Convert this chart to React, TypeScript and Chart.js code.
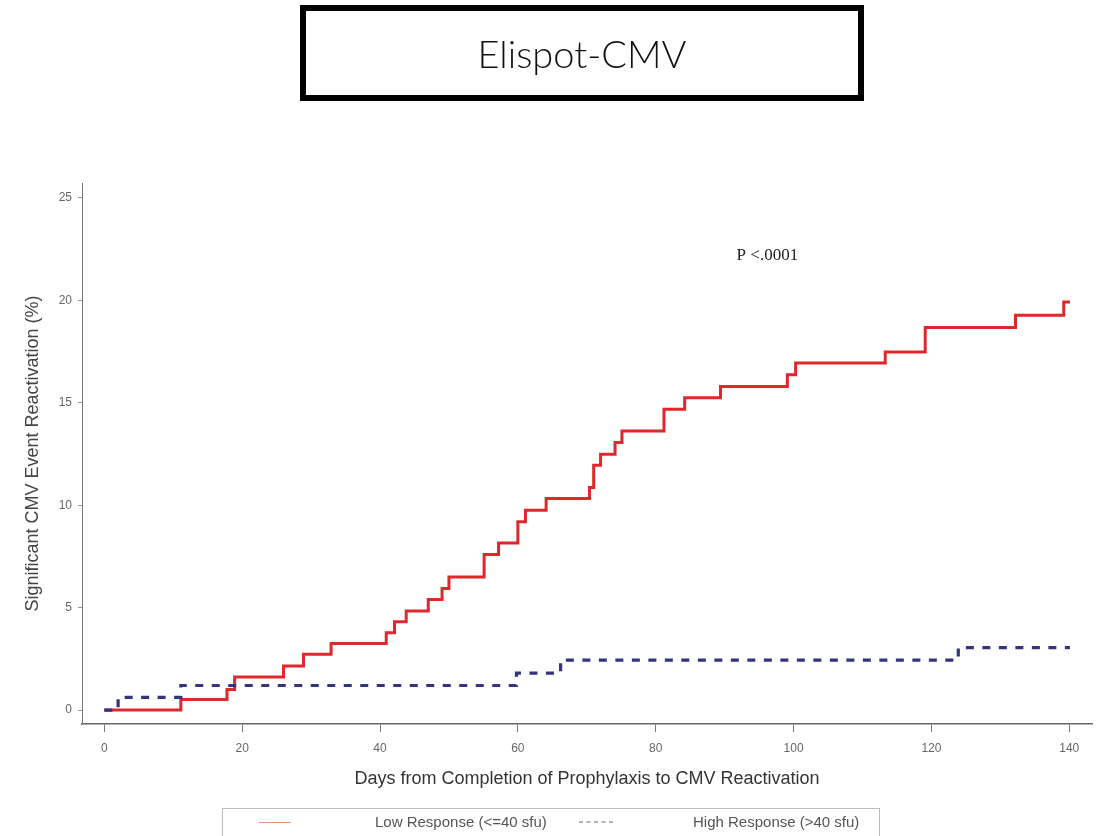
import React, { useEffect, useRef } from 'react';
import { Chart, registerables } from 'chart.js';

Chart.register(...registerables);

// Axis ticks
const xTicks = [0, 20, 40, 60, 80, 100, 120, 140];
const yTicks = [0, 5, 10, 15, 20, 25];

// Cumulative reactivation (%) for the low-response group: event day -> level after the event
const lowDays = [0, 11.1, 17.8, 18.9, 26, 28.9, 32.9, 40.9, 42.1, 43.8, 47, 49, 50, 55.1, 57.2, 60, 61.1, 64.1, 70.4, 71, 72, 74.1, 75.1, 81.2, 84.2, 89.4, 99.1, 100.3, 113.3, 119.1, 132.2, 139.2, 140.1];
const lowPct = [0, 0.52, 1.0, 1.62, 2.15, 2.72, 3.25, 3.77, 4.31, 4.84, 5.4, 5.94, 6.5, 7.6, 8.16, 9.19, 9.76, 10.33, 10.86, 11.95, 12.49, 13.06, 13.62, 14.68, 15.25, 15.8, 16.37, 16.94, 17.48, 18.67, 19.27, 19.92, 19.92];

// Cumulative reactivation (%) for the high-response group
const highDays = [0, 2.0, 11.1, 59.8, 66.2, 123.9, 140.1];
const highPct = [0, 0.62, 1.2, 1.8, 2.44, 3.05, 3.05];

const seriesLabels = ['Low Response (<=40 sfu)', 'High Response (>40 sfu)'];
const xTitle = 'Days from Completion of Prophylaxis to CMV Reactivation';
const yTitle = 'Significant CMV Event Reactivation (%)';
const chartTitle = 'Elispot-CMV';
const pValueText = 'P <.0001';
const pValueAt = { day: 96.2, pct: 22.2 };

const toPoints = (xs: number[], ys: number[]) => xs.map((x, i) => ({ x, y: ys[i] }));

const pValuePlugin = {
  id: 'pValueNote',
  afterDatasetsDraw(chart: any) {
    const { ctx, scales } = chart;
    ctx.save();
    ctx.font = '17px "Liberation Serif", "DejaVu Serif", serif';
    ctx.fillStyle = '#222';
    ctx.textAlign = 'center';
    ctx.textBaseline = 'middle';
    ctx.fillText(pValueText, scales.x.getPixelForValue(pValueAt.day), scales.y.getPixelForValue(pValueAt.pct));
    ctx.restore();
  },
};

function KaplanMeierChart() {
  const canvasRef = useRef<HTMLCanvasElement | null>(null);

  useEffect(() => {
    const canvas = canvasRef.current;
    if (!canvas) return;
    const tickFont = { family: '"Liberation Sans", Arial, sans-serif', size: 12 };
    const titleFont = { family: '"Liberation Sans", Arial, sans-serif', size: 18 };
    const chart = new Chart(canvas, {
      type: 'line',
      data: {
        datasets: [
          {
            label: seriesLabels[1],
            data: toPoints(highDays, highPct),
            borderColor: '#33337e',
            borderWidth: 3.2,
            borderDash: [8, 8.5],
            stepped: 'before',
            pointRadius: 0,
            fill: false,
          },
          {
            label: seriesLabels[0],
            data: toPoints(lowDays, lowPct),
            borderColor: '#e0282c',
            borderWidth: 3,
            stepped: 'before',
            pointRadius: 0,
            fill: false,
          },
        ],
      },
      options: {
        responsive: false,
        animation: false,
        devicePixelRatio: 1,
        layout: { padding: { top: 183, right: 15, left: 0, bottom: 42 } },
        plugins: { legend: { display: false }, tooltip: { enabled: false }, title: { display: false } },
        scales: {
          x: {
            type: 'linear',
            min: -3.24,
            max: 143.3,
            afterBuildTicks: (s: any) => { s.ticks = xTicks.map((v) => ({ value: v })); },
            afterFit: (s: any) => { s.height = 70; },
            grid: { drawOnChartArea: false, drawTicks: true, tickLength: 8, color: '#777', lineWidth: 1 },
            border: { display: true, color: '#666', width: 1.5 },
            ticks: { color: '#666', font: tickFont, padding: 9, maxRotation: 0, autoSkip: false },
            title: { display: true, text: xTitle, color: '#333', font: titleFont, padding: { top: 0, bottom: 4 } },
          },
          y: {
            type: 'linear',
            min: -0.68,
            max: 25.73,
            afterBuildTicks: (s: any) => { s.ticks = yTicks.map((v) => ({ value: v })); },
            afterFit: (s: any) => { s.width = 82; },
            grid: { drawOnChartArea: false, drawTicks: true, tickLength: 4, color: '#999', lineWidth: 1 },
            border: { display: true, color: '#777', width: 1 },
            ticks: { color: '#666', font: tickFont, padding: 6, autoSkip: false },
            title: { display: true, text: yTitle, color: '#444', font: titleFont, padding: { top: 22, bottom: 0 } },
          },
        },
      },
      plugins: [pValuePlugin],
    } as any);
    return () => chart.destroy();
  }, []);

  return <canvas ref={canvasRef} width={1107} height={836} style={{ display: 'block', width: 1107, height: 836 }} />;
}

export default function App() {
  const legendText: React.CSSProperties = {
    position: 'absolute',
    top: 4,
    font: '15px "Liberation Sans", Arial, sans-serif',
    color: '#555',
    whiteSpace: 'nowrap',
  };
  return (
    <div style={{ position: 'absolute', left: 0, top: 0, width: 1107, height: 836, overflow: 'hidden', background: '#fff' }}>
      <KaplanMeierChart />
      <div
        style={{
          position: 'absolute', left: 300, top: 5, width: 564, height: 96,
          border: '6px solid #000', boxSizing: 'border-box',
          display: 'flex', alignItems: 'center', justifyContent: 'center',
          font: '300 38px Lato, "Open Sans", sans-serif', color: '#111',
        }}
      >
        {chartTitle}
      </div>
      <div
        style={{
          position: 'absolute', left: 222, top: 808, width: 658, height: 40,
          border: '1px solid #bbb', boxSizing: 'border-box',
        }}
      >
        <div style={{ position: 'absolute', left: 36, top: 13, width: 32, height: 0, borderTop: '1.5px solid #e8946a' }} />
        <div style={{ ...legendText, left: 152 }}>{seriesLabels[0]}</div>
        <svg style={{ position: 'absolute', left: 355, top: 11 }} width={40} height={4}>
          <line x1={1} y1={2} x2={38} y2={2} stroke="#666" strokeWidth={1.2} strokeDasharray="4 3.5" />
        </svg>
        <div style={{ ...legendText, left: 470 }}>{seriesLabels[1]}</div>
      </div>
    </div>
  );
}
